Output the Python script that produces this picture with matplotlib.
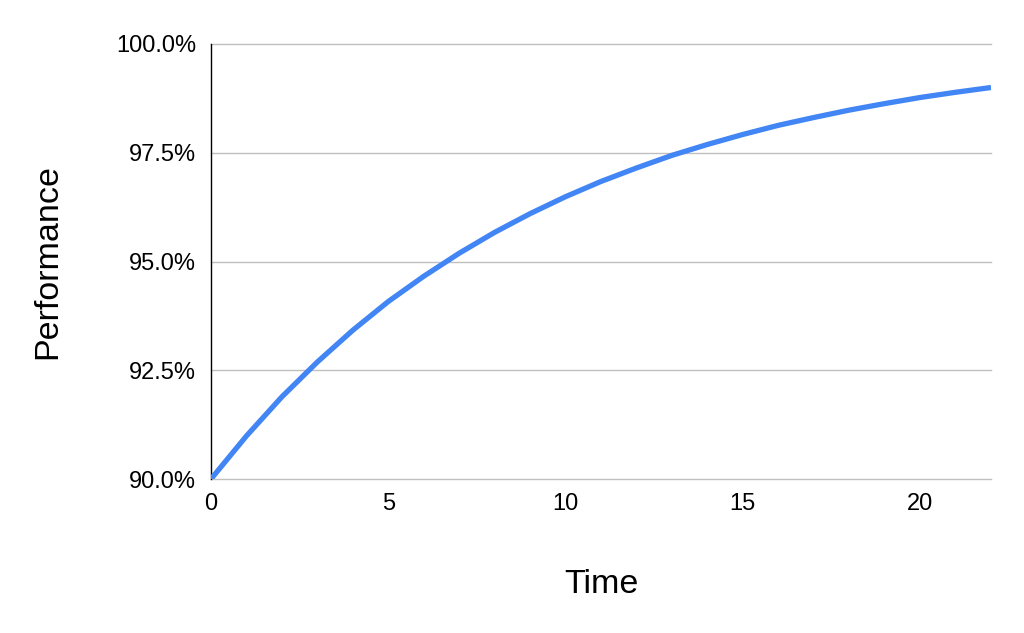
import matplotlib
matplotlib.use("Agg")
import matplotlib.pyplot as plt
from matplotlib.ticker import FuncFormatter

plt.rcParams['font.family'] = ['Liberation Sans', 'DejaVu Sans']

# values
time = list(range(0, 23))
performance = [90.00, 90.99, 91.89, 92.69, 93.42, 94.08, 94.66, 95.19, 95.67,
               96.10, 96.49, 96.84, 97.15, 97.44, 97.69, 97.92, 98.13, 98.31,
               98.48, 98.63, 98.77, 98.89, 99.00]
yticks = [90.0, 92.5, 95.0, 97.5, 100.0]
xticks = [0, 5, 10, 15, 20]

fig = plt.figure(figsize=(10.24, 6.33), dpi=100)
ax = fig.add_axes([211/1024, 1 - 479/633, 780/1024, 435/633])

ax.plot(time, performance, color='#4285F4', linewidth=3.8, solid_capstyle='butt', zorder=3)

ax.set_xlim(0, 22)
ax.set_ylim(90, 100)
ax.set_yticks(yticks)
ax.set_xticks(xticks)
ax.yaxis.set_major_formatter(FuncFormatter(lambda v, p: f"{v:.1f}%"))
ax.grid(axis='y', color='#c0c0c0', linewidth=1)
for gl in ax.get_ygridlines():
    gl.set_clip_on(False)
ax.set_axisbelow(True)

for s in ['top', 'right', 'bottom']:
    ax.spines[s].set_visible(False)
ax.spines['left'].set_color('black')
ax.spines['left'].set_linewidth(1)
ax.spines['left'].set_zorder(2.5)
ax.tick_params(length=0, labelsize=17, colors='black')
ax.tick_params(axis='y', pad=10.8)
ax.tick_params(axis='x', pad=10)

ax.set_xlabel('Time', fontsize=24.5, labelpad=39)
ax.set_ylabel('Performance', fontsize=24.5, labelpad=38)

fig.savefig('out.png', dpi=100)
